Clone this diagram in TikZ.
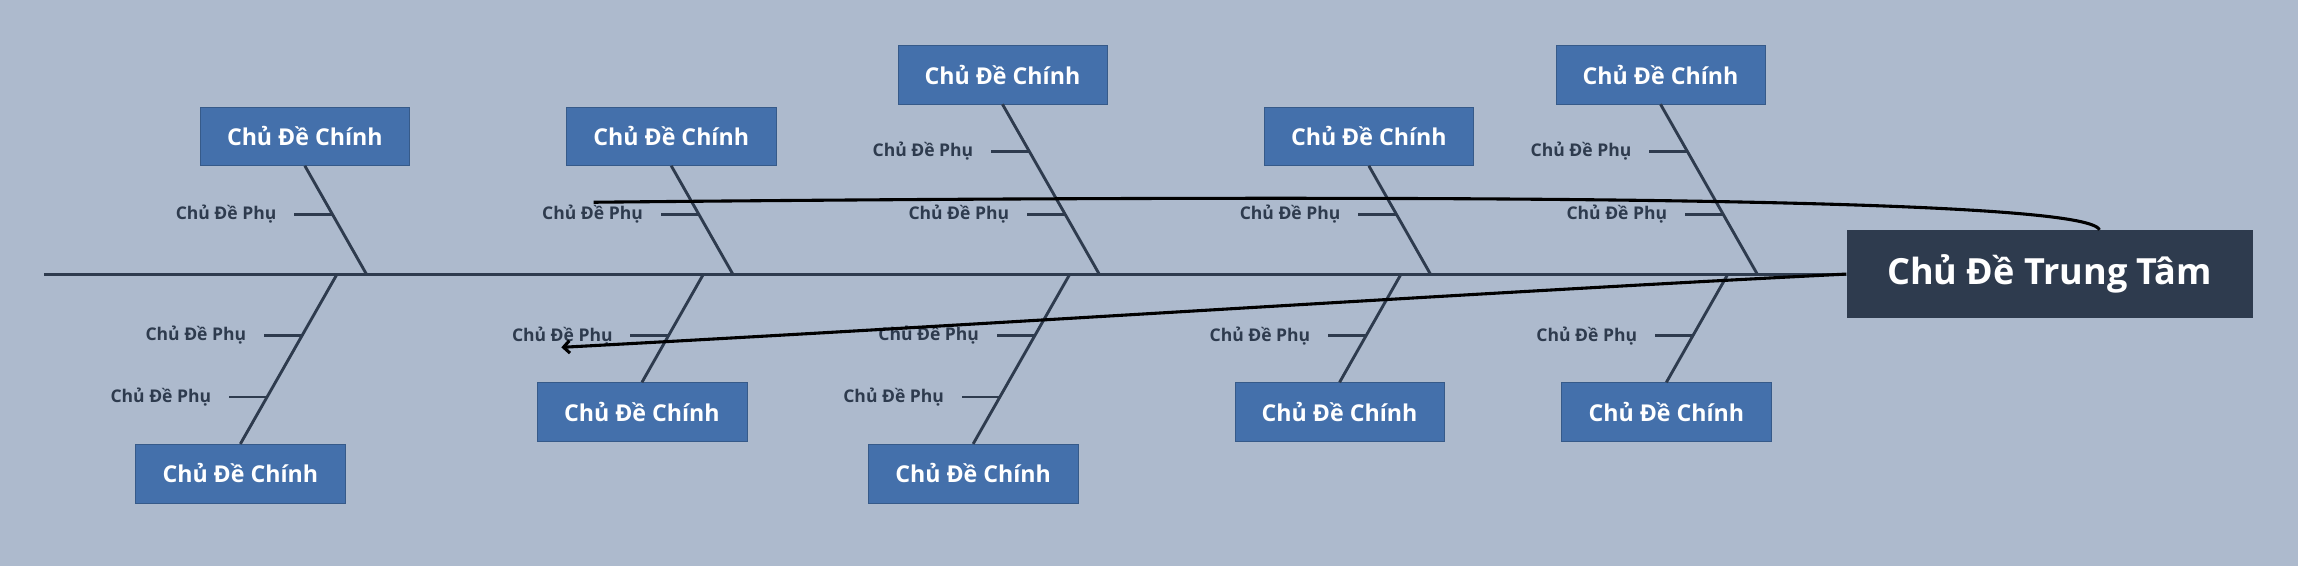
\documentclass[tikz,border=0pt]{standalone}
\usepackage{fontspec}
\setmainfont{Open Sans}
\usetikzlibrary{arrows.meta,calc}
\definecolor{bg}{HTML}{ADBACD}
\definecolor{dark}{HTML}{2E3B4E}
\definecolor{blu}{HTML}{4470AB}
\tikzset{
 mainbox/.style={fill=blu,draw=blu!80!black,line width=0.3pt,minimum width=7.15cm,minimum height=2cm,text=white,font=\fontsize{22.5}{26}\selectfont\bfseries,inner sep=0pt},
 centerbox/.style={fill=dark,minimum width=13.85cm,minimum height=3cm,text=white,font=\fontsize{35}{40}\selectfont\bfseries,inner sep=0pt},
 sub/.style={anchor=east,text=dark,font=\fontsize{17}{20}\selectfont\bfseries,inner sep=0pt},
 bone/.style={draw=dark,line width=2.8pt},
 link/.style={draw=black,line width=3pt}
}
\newcommand\subtick[3]{% from, to, fraction
  \path ($(#1)!#3!(#2)$) coordinate (p);
  \draw[bone] (p) -- ++(-26,0) coordinate (q);
  \node[sub] at ($(q)+(-12,0)$) {Chủ Đề Phụ};
}
\begin{document}
\begin{tikzpicture}[x=0.05cm,y=-0.05cm]
\fill[bg] (0,0) rectangle (1568,386);
\node[centerbox] (C) at (1398.5,187) {Chủ Đề Trung Tâm};
\coordinate (S) at (30,187);
\draw[bone] (S) -- (C.west);
\node[mainbox] (T1) at (208,93) {Chủ Đề Chính};
\node[mainbox] (T2) at (458,93) {Chủ Đề Chính};
\node[mainbox] (T3) at (684,51) {Chủ Đề Chính};
\node[mainbox] (T4) at (934,93) {Chủ Đề Chính};
\node[mainbox] (T5) at (1133,51) {Chủ Đề Chính};
\node[mainbox] (B1) at (164,323) {Chủ Đề Chính};
\node[mainbox] (B2) at (438,281) {Chủ Đề Chính};
\node[mainbox] (B3) at (664,323) {Chủ Đề Chính};
\node[mainbox] (B4) at (914,281) {Chủ Đề Chính};
\node[mainbox] (B5) at (1137,281) {Chủ Đề Chính};
\coordinate (T1e) at (250,187); \coordinate (T2e) at (500,187);
\coordinate (T3e) at (750,187); \coordinate (T4e) at (976,187);
\coordinate (T5e) at (1199,187);
\coordinate (B1e) at (230,187); \coordinate (B2e) at (480,187);
\coordinate (B3e) at (730,187); \coordinate (B4e) at (956,187);
\coordinate (B5e) at (1179,187);
\foreach \n in {T1,T2,T3,T4,T5}{\draw[bone] (\n.south) -- (\n e);}
\foreach \n in {B1,B2,B3,B4,B5}{\draw[bone] (\n e) -- (\n.north);}
\subtick{T1.south}{T1e}{0.446}
\subtick{T2.south}{T2e}{0.446}
\subtick{T3.south}{T3e}{0.276}
\subtick{T3.south}{T3e}{0.647}
\subtick{T4.south}{T4e}{0.446}
\subtick{T5.south}{T5e}{0.276}
\subtick{T5.south}{T5e}{0.647}
\subtick{B1e}{B1.north}{0.362}
\subtick{B1e}{B1.north}{0.724}
\subtick{B3e}{B3.north}{0.362}
\subtick{B3e}{B3.north}{0.724}
\subtick{B2e}{B2.north}{0.568}
\subtick{B4e}{B4.north}{0.568}
\subtick{B5e}{B5.north}{0.568}
\coordinate (L1) at (405,138);
\coordinate (L2) at (383,237);
\draw[link] (L1) .. controls (1000,132) and (1425,135) .. ([xshift=1.7cm]C.north);
\draw[link,-{Straight Barb[length=6pt,width=12pt]}] (C.west) .. controls (1000,200) and (700,220) .. (L2);
\end{tikzpicture}
\end{document}
